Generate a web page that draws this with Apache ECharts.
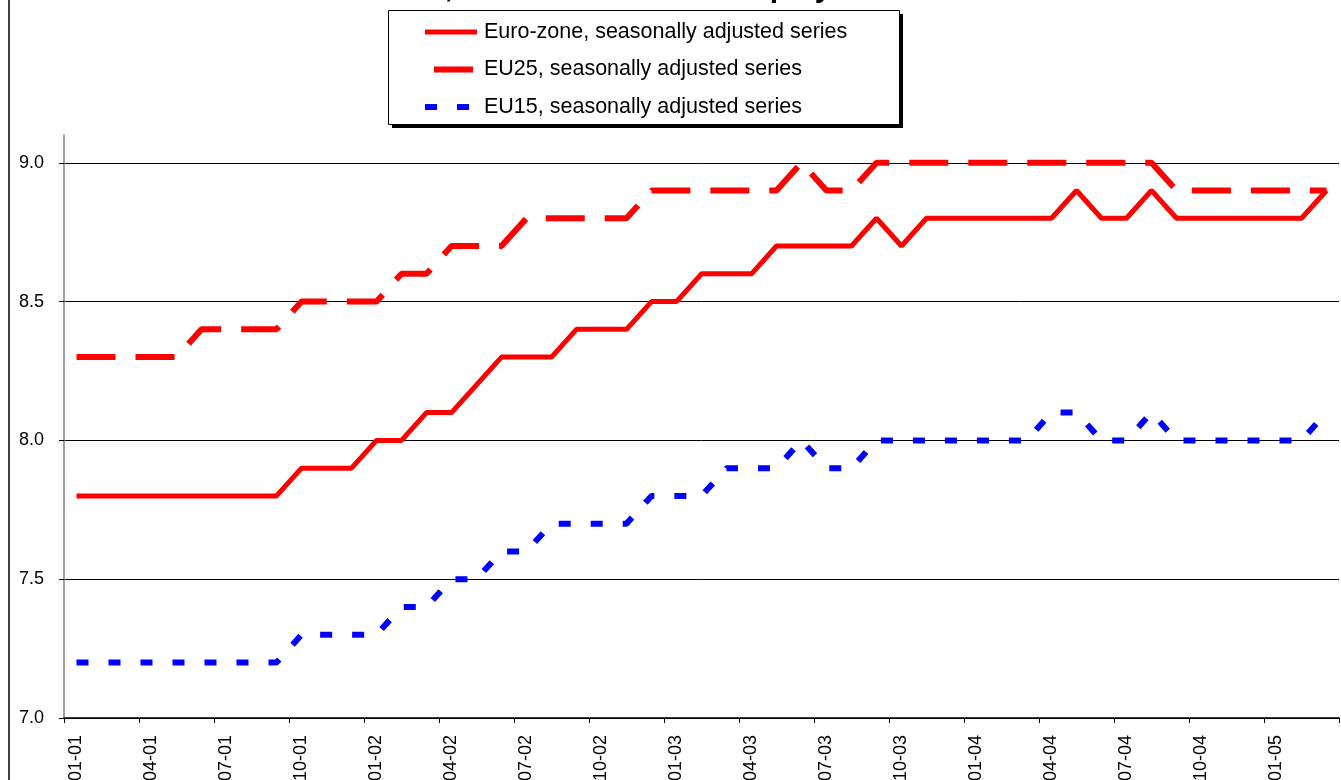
<!DOCTYPE html>
<html>
<head>
<meta charset="utf-8">
<script src="https://cdn.jsdelivr.net/npm/echarts@6/dist/echarts.min.js"></script>
<style>
html,body{margin:0;padding:0;background:#fff;}
#chart{width:1341px;height:780px;}
</style>
</head>
<body>
<div id="chart"></div>
<script>
var titleText = 'Euro-zone, EU25 and EU15 unemployment';

var categories = [
  '01-01','02-01','03-01','04-01','05-01','06-01','07-01','08-01','09-01','10-01','11-01','12-01',
  '01-02','02-02','03-02','04-02','05-02','06-02','07-02','08-02','09-02','10-02','11-02','12-02',
  '01-03','02-03','03-03','04-03','05-03','06-03','07-03','08-03','09-03','10-03','11-03','12-03',
  '01-04','02-04','03-04','04-04','05-04','06-04','07-04','08-04','09-04','10-04','11-04','12-04',
  '01-05','02-05','03-05'
];

var euroZone = [
  7.8,7.8,7.8,7.8,7.8,7.8,7.8,7.8,7.8,7.9,7.9,7.9,
  8.0,8.0,8.1,8.1,8.2,8.3,8.3,8.3,8.4,8.4,8.4,8.5,
  8.5,8.6,8.6,8.6,8.7,8.7,8.7,8.7,8.8,8.7,8.8,8.8,
  8.8,8.8,8.8,8.8,8.9,8.8,8.8,8.9,8.8,8.8,8.8,8.8,
  8.8,8.8,8.9
];

var eu25 = [
  8.3,8.3,8.3,8.3,8.3,8.4,8.4,8.4,8.4,8.5,8.5,8.5,
  8.5,8.6,8.6,8.7,8.7,8.7,8.8,8.8,8.8,8.8,8.8,8.9,
  8.9,8.9,8.9,8.9,8.9,9.0,8.9,8.9,9.0,9.0,9.0,9.0,
  9.0,9.0,9.0,9.0,9.0,9.0,9.0,9.0,8.9,8.9,8.9,8.9,
  8.9,8.9,8.9
];

var eu15 = [
  7.2,7.2,7.2,7.2,7.2,7.2,7.2,7.2,7.2,7.3,7.3,7.3,
  7.3,7.4,7.4,7.5,7.5,7.6,7.6,7.7,7.7,7.7,7.7,7.8,
  7.8,7.8,7.9,7.9,7.9,8.0,7.9,7.9,8.0,8.0,8.0,8.0,
  8.0,8.0,8.0,8.1,8.1,8.0,8.0,8.1,8.0,8.0,8.0,8.0,
  8.0,8.0,8.1
];

var seriesNames = [
  'Euro-zone, seasonally adjusted series',
  'EU25, seasonally adjusted series',
  'EU15, seasonally adjusted series'
];

var yTicks = [7.0, 7.5, 8.0, 8.5, 9.0];

var FONT = '"Liberation Sans", Arial, sans-serif';
var chart = echarts.init(document.getElementById('chart'), null, {renderer: 'canvas'});

var option = {
  animation: false,
  backgroundColor: '#ffffff',
  title: {
    text: titleText,
    left: 298,
    top: -26,
    padding: 0,
    textStyle: {fontFamily: FONT, fontSize: 30, fontWeight: 'bold', color: '#000'}
  },
  graphic: [
    {
      type: 'line', z: 0, silent: true,
      shape: {x1: 9, y1: 0, x2: 9, y2: 780},
      style: {stroke: '#404040', lineWidth: 2}
    },
    {
      type: 'rect', z: 0, silent: true,
      shape: {x: 392, y: 14, width: 511, height: 114},
      style: {fill: '#000', stroke: null}
    },
    {
      type: 'rect', z: 1, silent: true,
      shape: {x: 388.5, y: 10.5, width: 511, height: 114},
      style: {fill: '#fff', stroke: '#000', lineWidth: 1}
    }
  ],
  legend: {
    orient: 'vertical',
    left: 422,
    top: 20,
    padding: 0,
    itemGap: 13.5,
    itemWidth: 52,
    itemHeight: 14,
    backgroundColor: 'transparent',
    borderWidth: 0,
    itemStyle: {opacity: 0},
    textStyle: {fontFamily: FONT, fontSize: 21.5, color: '#000', lineHeight: 24, padding: [0, 0, 0, 2]},
    data: [
      {name: seriesNames[0], lineStyle: {width: 5, type: 'solid', color: '#ff0000'}},
      {name: seriesNames[1], lineStyle: {width: 6, type: [39, 20], dashOffset: 50, color: '#ff0000'}},
      {name: seriesNames[2], lineStyle: {width: 6, type: [12, 20], dashOffset: 0, color: '#0000ff'}}
    ]
  },
  grid: {left: 64, right: 2, top: 135, bottom: 62, containLabel: false, outerBoundsMode: 'none'},
  xAxis: {
    type: 'category',
    data: categories,
    boundaryGap: true,
    axisLine: {show: true, lineStyle: {color: '#000', width: 1.5}},
    axisTick: {show: true, interval: 2, length: 5, lineStyle: {color: '#000', width: 1}},
    axisLabel: {interval: 2, rotate: 90, margin: 17, fontFamily: FONT, fontSize: 18, color: '#000'},
    splitLine: {show: false}
  },
  yAxis: {
    type: 'value',
    min: 7.0,
    max: 9.1,
    interval: 0.5,
    axisLine: {show: true, lineStyle: {color: '#808080', width: 1.5}},
    axisTick: {show: true, length: 5, customValues: yTicks, lineStyle: {color: '#000', width: 1}},
    axisLabel: {
      margin: 20, fontFamily: FONT, fontSize: 18, color: '#000',
      customValues: yTicks,
      formatter: function (v) { return v.toFixed(1); }
    },
    splitLine: {show: true, lineStyle: {color: '#000', width: 1}}
  },
  series: [
    {
      name: seriesNames[0], type: 'line', data: euroZone, symbol: 'none', smooth: false,
      lineStyle: {color: '#ff0000', width: 5, type: 'solid'},
      itemStyle: {color: '#ff0000'}, z: 3
    },
    {
      name: seriesNames[1], type: 'line', data: eu25, symbol: 'none', smooth: false,
      lineStyle: {color: '#ff0000', width: 6, type: [39, 20]},
      itemStyle: {color: '#ff0000'}, z: 2
    },
    {
      name: seriesNames[2], type: 'line', data: eu15, symbol: 'none', smooth: false,
      lineStyle: {color: '#0000ff', width: 6, type: [12, 20]},
      itemStyle: {color: '#0000ff'}, z: 2
    }
  ]
};
chart.setOption(option);
</script>
</body>
</html>
